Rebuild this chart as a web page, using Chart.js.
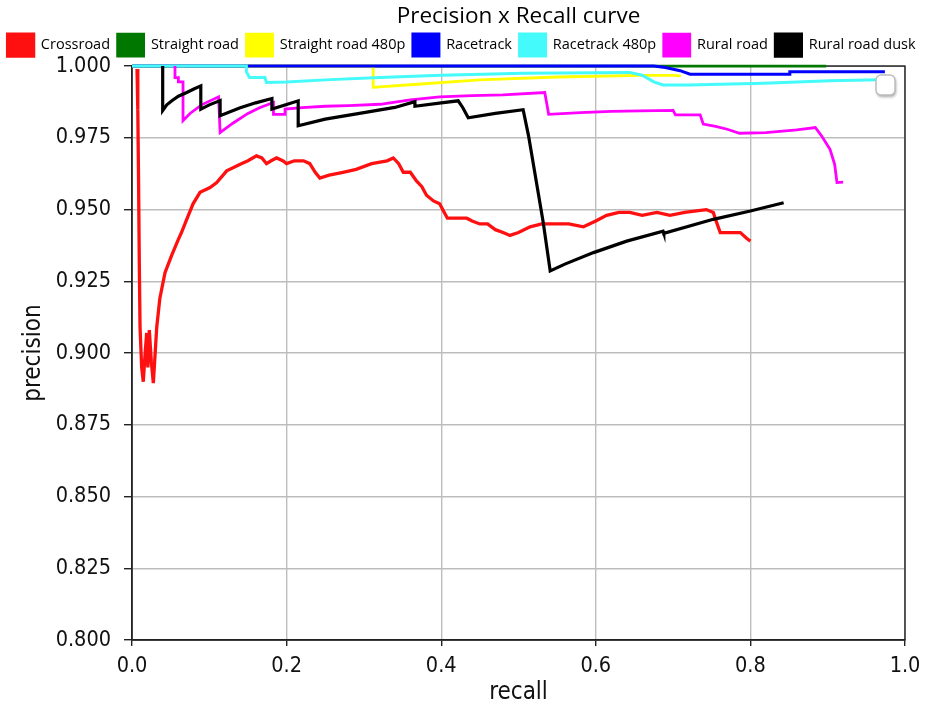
<!DOCTYPE html>
<html>
<head>
<meta charset="utf-8">
<script src="https://cdn.jsdelivr.net/npm/chart.js@4.4.1/dist/chart.umd.min.js"></script>
<style>
  html, body { margin: 0; padding: 0; background: #ffffff; }
  #wrap { width: 936px; height: 713px; }
</style>
</head>
<body>
<div id="wrap"><canvas id="prc" width="936" height="713"></canvas></div>
<script>
// Series names and colours (legend order)
const seriesNames = ['Crossroad', 'Straight road', 'Straight road 480p', 'Racetrack', 'Racetrack 480p', 'Rural road', 'Rural road dusk'];
const seriesColors = ['#ff1010', '#007800', '#ffff00', '#0000ff', '#45fafa', '#ff00ff', '#000000'];

// Axis ticks
const recallTicks = [0.0, 0.2, 0.4, 0.6, 0.8, 1.0];
const precisionTicks = [0.800, 0.825, 0.850, 0.875, 0.900, 0.925, 0.950, 0.975, 1.000];

// Crossroad
const crossroadRecall = [0.0065, 0.0075, 0.0085, 0.0095, 0.0104, 0.0125, 0.0146, 0.0170, 0.0190, 0.0205, 0.0224, 0.0250, 0.0276, 0.0320, 0.0360, 0.0427, 0.0513, 0.0600, 0.0640, 0.0708, 0.0790, 0.0880, 0.1010, 0.1096, 0.1225, 0.1400, 0.1500, 0.1610, 0.1680, 0.1740, 0.1800, 0.1870, 0.1950, 0.2000, 0.2100, 0.2220, 0.2300, 0.2370, 0.2430, 0.2550, 0.2730, 0.2900, 0.3100, 0.3300, 0.3380, 0.3450, 0.3510, 0.3600, 0.3680, 0.3750, 0.3810, 0.3900, 0.3980, 0.4040, 0.4080, 0.4200, 0.4330, 0.4400, 0.4500, 0.4600, 0.4700, 0.4800, 0.4890, 0.5000, 0.5150, 0.5300, 0.5490, 0.5650, 0.5840, 0.6000, 0.6140, 0.6300, 0.6440, 0.6600, 0.6790, 0.6960, 0.7150, 0.7430, 0.7520, 0.7570, 0.7610, 0.7750, 0.7870, 0.7950, 0.8000];
const crossroadPrecision = [0.999, 0.985, 0.960, 0.930, 0.909, 0.895, 0.890, 0.900, 0.907, 0.895, 0.908, 0.897, 0.8895, 0.909, 0.919, 0.928, 0.934, 0.9396, 0.942, 0.9466, 0.952, 0.956, 0.9577, 0.9594, 0.9635, 0.9658, 0.967, 0.9687, 0.968, 0.966, 0.967, 0.968, 0.967, 0.966, 0.967, 0.967, 0.966, 0.963, 0.961, 0.962, 0.963, 0.964, 0.966, 0.967, 0.968, 0.966, 0.963, 0.963, 0.960, 0.958, 0.955, 0.953, 0.952, 0.949, 0.947, 0.947, 0.947, 0.946, 0.945, 0.945, 0.943, 0.942, 0.941, 0.942, 0.944, 0.945, 0.945, 0.945, 0.944, 0.946, 0.948, 0.949, 0.949, 0.948, 0.949, 0.948, 0.949, 0.950, 0.949, 0.945, 0.942, 0.942, 0.942, 0.940, 0.939];

// Straight road
const straightRecall = [0.000, 0.898];
const straightPrecision = [1.000, 1.000];

// Straight road 480p
const straight480Recall = [0.000, 0.312, 0.312, 0.360, 0.450, 0.550, 0.657, 0.700, 0.710];
const straight480Precision = [1.000, 1.000, 0.9926, 0.9935, 0.9952, 0.9962, 0.9968, 0.9968, 0.9966];

// Racetrack
const racetrackRecall = [0.000, 0.675, 0.690, 0.709, 0.722, 0.850, 0.851, 0.974];
const racetrackPrecision = [1.000, 1.000, 0.9995, 0.9984, 0.9972, 0.9972, 0.998, 0.998];

// Racetrack 480p
const racetrack480Recall = [0.000, 0.148, 0.148, 0.152, 0.172, 0.174, 0.200, 0.250, 0.321, 0.400, 0.506, 0.600, 0.644, 0.660, 0.675, 0.687, 0.720, 0.817, 0.903, 0.966];
const racetrack480Precision = [1.000, 1.000, 0.998, 0.996, 0.996, 0.9943, 0.9945, 0.9952, 0.996, 0.9968, 0.9975, 0.9977, 0.9978, 0.9968, 0.9945, 0.9934, 0.9934, 0.994, 0.9949, 0.9952];

// Rural road
const ruralRecall = [0.0556, 0.0556, 0.060, 0.060, 0.066, 0.066, 0.075, 0.090, 0.112, 0.114, 0.130, 0.150, 0.165, 0.183, 0.183, 0.198, 0.198, 0.220, 0.250, 0.280, 0.321, 0.360, 0.398, 0.440, 0.480, 0.534, 0.539, 0.580, 0.620, 0.657, 0.700, 0.703, 0.735, 0.739, 0.755, 0.770, 0.786, 0.820, 0.860, 0.884, 0.892, 0.903, 0.909, 0.912, 0.920];
const ruralPrecision = [1.000, 0.996, 0.996, 0.9945, 0.9945, 0.981, 0.9835, 0.9865, 0.9893, 0.9768, 0.980, 0.9835, 0.9855, 0.9873, 0.9832, 0.9832, 0.985, 0.9855, 0.986, 0.9862, 0.9867, 0.9882, 0.9893, 0.9897, 0.990, 0.9908, 0.9832, 0.9838, 0.9842, 0.9844, 0.9846, 0.983, 0.983, 0.9798, 0.979, 0.978, 0.9766, 0.9768, 0.9778, 0.9786, 0.9757, 0.971, 0.9658, 0.9594, 0.9596];

// Rural road dusk
const duskRecall = [0.0397, 0.0397, 0.045, 0.052, 0.060, 0.0708, 0.080, 0.089, 0.089, 0.100, 0.114, 0.114, 0.140, 0.160, 0.181, 0.181, 0.200, 0.215, 0.215, 0.250, 0.300, 0.340, 0.366, 0.366, 0.400, 0.422, 0.428, 0.435, 0.470, 0.506, 0.513, 0.532, 0.541, 0.560, 0.597, 0.640, 0.687, 0.688, 0.752, 0.800, 0.843];
const duskPrecision = [1.000, 0.9845, 0.9865, 0.988, 0.9895, 0.9908, 0.992, 0.9931, 0.985, 0.9865, 0.988, 0.9827, 0.9855, 0.9872, 0.9887, 0.985, 0.9866, 0.9879, 0.9792, 0.9815, 0.9838, 0.9856, 0.9876, 0.986, 0.9872, 0.9879, 0.9855, 0.982, 0.9835, 0.9848, 0.9757, 0.9455, 0.9286, 0.931, 0.935, 0.939, 0.9425, 0.9417, 0.9466, 0.9495, 0.9524];

const recallSets = [crossroadRecall, straightRecall, straight480Recall, racetrackRecall, racetrack480Recall, ruralRecall, duskRecall];
const precisionSets = [crossroadPrecision, straightPrecision, straight480Precision, racetrackPrecision, racetrack480Precision, ruralPrecision, duskPrecision];
const lineWidths = [3.3, 2.8, 2.8, 3, 3, 2.8, 3.2];

const datasets = seriesNames.map((name, i) => ({
  label: name,
  data: recallSets[i].map((r, k) => ({ x: r, y: precisionSets[i][k] })),
  borderColor: seriesColors[i],
  backgroundColor: seriesColors[i],
  borderWidth: lineWidths[i],
  pointRadius: 0,
  tension: 0,
  fill: false,
  clip: 5,
  // later series are painted over earlier ones
  order: seriesNames.length - i
}));

// Plot frame and the small marker box at the upper right
const framePlugin = {
  id: 'frame',
  beforeDatasetsDraw(chart) {
    const { ctx, chartArea: a } = chart;
    ctx.save();
    ctx.strokeStyle = '#222222';
    ctx.lineWidth = 1.4;
    ctx.strokeRect(a.left, a.top, a.right - a.left, a.bottom - a.top);
    ctx.restore();
  },
  afterDatasetsDraw(chart) {
    const { ctx, chartArea: a } = chart;
    ctx.save();
    ctx.shadowColor = 'rgba(0,0,0,0.35)';
    ctx.shadowBlur = 3;
    ctx.shadowOffsetX = 1;
    ctx.shadowOffsetY = 2;
    ctx.fillStyle = '#ffffff';
    ctx.strokeStyle = '#bdbdbd';
    ctx.lineWidth = 1.5;
    ctx.beginPath();
    ctx.roundRect(a.right - 29, a.top + 9, 19, 20, 5);
    ctx.fill();
    ctx.shadowColor = 'transparent';
    ctx.stroke();
    ctx.restore();
  }
};

const condensed = "'DejaVu Sans Condensed', 'Liberation Sans Narrow', 'DejaVu Sans', sans-serif";
const tickFont = { family: condensed, size: 21.5 };
const axisTitleFont = { family: condensed, size: 24 };

new Chart(document.getElementById('prc'), {
  type: 'line',
  data: { datasets },
  plugins: [framePlugin],
  options: {
    responsive: false,
    animation: false,
    events: [],
    layout: { padding: 0 },
    plugins: {
      title: {
        display: true,
        text: 'Precision x Recall curve',
        fullSize: false,
        color: '#000000',
        font: { family: "'Open Sans', 'Noto Sans', sans-serif", size: 22.5, weight: 'normal', lineHeight: 1.0 },
        padding: { top: 5, bottom: -1 }
      },
      legend: {
        display: true,
        align: 'start',
        maxHeight: 41,
        labels: {
          color: '#000000',
          font: { family: "'Open Sans', 'Noto Sans', sans-serif", size: 14.5 },
          boxWidth: 26,
          boxHeight: 22,
          padding: 7.6,
          sort: (a, b) => a.datasetIndex - b.datasetIndex
        }
      },
      tooltip: { enabled: false }
    },
    scales: {
      x: {
        type: 'linear',
        min: 0,
        max: 1,
        afterBuildTicks: s => { s.ticks = recallTicks.map(v => ({ value: v })); },
        afterFit: s => { s.height = 73; },
        ticks: { color: '#111111', font: tickFont, padding: 8, maxRotation: 0, callback: v => v.toFixed(1) },
        grid: { color: '#bdbdbd', lineWidth: 1.4, tickLength: 6, tickColor: '#222222', tickWidth: 1.4 },
        border: { display: true, color: '#222222', width: 1.4 },
        title: { display: true, text: 'recall', color: '#111111', font: axisTitleFont, padding: { top: 0, bottom: 6 } }
      },
      y: {
        type: 'linear',
        min: 0.8,
        max: 1.0,
        afterBuildTicks: s => { s.ticks = precisionTicks.map(v => ({ value: v })); },
        afterFit: s => { s.width = 132; },
        ticks: { color: '#111111', font: tickFont, padding: 13, callback: v => v.toFixed(3) },
        grid: { color: '#bdbdbd', lineWidth: 1.4, tickLength: 8, tickColor: '#222222', tickWidth: 1.4 },
        border: { display: true, color: '#222222', width: 1.4 },
        title: { display: true, text: 'precision', color: '#111111', font: axisTitleFont, padding: { top: 19, bottom: 0 } }
      },
      // empty right-hand margin scale
      yMargin: {
        type: 'linear',
        position: 'right',
        min: 0.8,
        max: 1.0,
        afterFit: s => { s.width = 31; },
        ticks: { display: false },
        grid: { display: false, drawTicks: false },
        border: { display: false },
        title: { display: false }
      }
    }
  }
});
</script>
</body>
</html>
